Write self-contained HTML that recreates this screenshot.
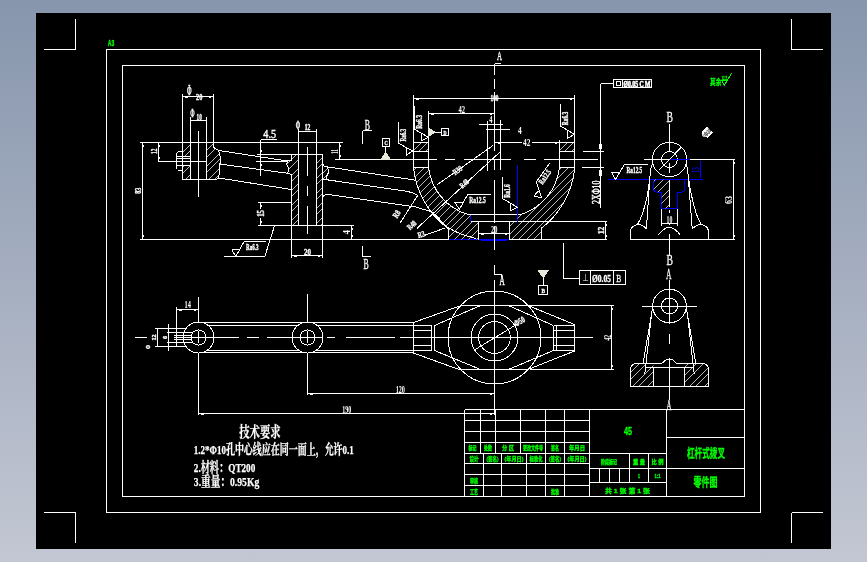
<!DOCTYPE html>
<html lang="zh"><head><meta charset="utf-8"><title>杠杆式拨叉 零件图</title>
<style>
html,body{margin:0;padding:0}
body{width:867px;height:562px;overflow:hidden;background:#a5aec0;font-family:"Liberation Sans","Noto Sans CJK SC",sans-serif}
svg{display:block;position:absolute;left:0;top:0;will-change:transform}
</style></head><body>
<svg width="867" height="562" viewBox="0 0 867 562" fill="none" stroke-width="1" shape-rendering="crispEdges" font-family="'Liberation Serif','Noto Serif CJK SC',serif">
<defs><linearGradient id="bg" x1="0" y1="0" x2="0" y2="1"><stop offset="0" stop-color="#8796ad"/><stop offset="1" stop-color="#c3c7d3"/></linearGradient></defs>
<rect x="0" y="0" width="867" height="562" fill="url(#bg)"/>
<rect x="36" y="13" width="795" height="536" fill="#000"/>
<rect x="106.5" y="49.5" width="654" height="463" stroke="#fff" fill="none" shape-rendering="crispEdges"/>
<rect x="122.5" y="65.5" width="622" height="431" stroke="#fff" fill="none" shape-rendering="crispEdges"/>
<line x1="75.5" y1="19" x2="75.5" y2="49.5" stroke="#fff" shape-rendering="crispEdges"/>
<line x1="44" y1="49.5" x2="75.5" y2="49.5" stroke="#fff" shape-rendering="crispEdges"/>
<line x1="791.5" y1="19" x2="791.5" y2="49.5" stroke="#fff" shape-rendering="crispEdges"/>
<line x1="791.5" y1="49.5" x2="823" y2="49.5" stroke="#fff" shape-rendering="crispEdges"/>
<line x1="75.5" y1="512.5" x2="75.5" y2="543" stroke="#fff" shape-rendering="crispEdges"/>
<line x1="44" y1="512.5" x2="75.5" y2="512.5" stroke="#fff" shape-rendering="crispEdges"/>
<line x1="791.5" y1="512.5" x2="791.5" y2="543" stroke="#fff" shape-rendering="crispEdges"/>
<line x1="791.5" y1="512.5" x2="823" y2="512.5" stroke="#fff" shape-rendering="crispEdges"/>
<text x="111" y="46" font-size="9.5" fill="#00ff00" text-anchor="middle" font-weight="bold" textLength="6.5" lengthAdjust="spacingAndGlyphs" font-family="'Liberation Sans',sans-serif" stroke="#00ff00" stroke-width="0.4">A3</text>
<line x1="140" y1="142.5" x2="342.5" y2="142.5" stroke="#fff" shape-rendering="crispEdges"/>
<line x1="140" y1="239.5" x2="448.5" y2="239.5" stroke="#fff" shape-rendering="crispEdges"/>
<line x1="448.5" y1="239.5" x2="508.5" y2="239.5" stroke="#0000ff" shape-rendering="crispEdges"/>
<line x1="508.5" y1="239.5" x2="607" y2="239.5" stroke="#fff" shape-rendering="crispEdges"/>
<line x1="142.5" y1="142.5" x2="142.5" y2="239.5" stroke="#fff" shape-rendering="crispEdges"/>
<rect x="143.0" y="145.0" width="1" height="2" fill="#fff" stroke="none"/>
<rect x="143.0" y="235.0" width="1" height="2" fill="#fff" stroke="none"/>
<text x="141.5" y="190.7" font-size="9" fill="#fff" text-anchor="middle" font-weight="bold" transform="rotate(-90 141.5 190.7)" textLength="6" lengthAdjust="spacingAndGlyphs" stroke="#fff" stroke-width="0.35">83</text>
<line x1="182.5" y1="93.5" x2="182.5" y2="179.5" stroke="#fff" shape-rendering="crispEdges"/>
<line x1="213.5" y1="93.5" x2="213.5" y2="147.5" stroke="#fff" shape-rendering="crispEdges"/>
<line x1="182.5" y1="96.5" x2="213.5" y2="96.5" stroke="#fff" shape-rendering="crispEdges"/>
<rect x="185.0" y="97.0" width="2.5" height="1" fill="#fff" stroke="none"/>
<rect x="208.5" y="97.0" width="2.5" height="1" fill="#fff" stroke="none"/>
<text x="199.2" y="99.7" font-size="8.5" fill="#fff" text-anchor="middle" font-weight="bold" textLength="6.4" lengthAdjust="spacingAndGlyphs" stroke="#fff" stroke-width="0.35">20</text>
<text x="189.3" y="94.5" font-size="14" fill="#fff" text-anchor="middle" font-weight="bold" textLength="4.6" lengthAdjust="spacingAndGlyphs" stroke="#fff" stroke-width="0.3">Φ</text>
<line x1="190.5" y1="117" x2="190.5" y2="179.5" stroke="#fff" shape-rendering="crispEdges"/>
<line x1="206.5" y1="117" x2="206.5" y2="179.5" stroke="#fff" shape-rendering="crispEdges"/>
<line x1="190.5" y1="120.5" x2="206.5" y2="120.5" stroke="#fff" shape-rendering="crispEdges"/>
<text x="192.5" y="116.8" font-size="12.5" fill="#fff" text-anchor="middle" font-weight="bold" textLength="4.4" lengthAdjust="spacingAndGlyphs" stroke="#fff" stroke-width="0.3">Φ</text>
<text x="199.2" y="120" font-size="9" fill="#fff" text-anchor="middle" font-weight="bold" textLength="5.2" lengthAdjust="spacingAndGlyphs" stroke="#fff" stroke-width="0.35">10</text>
<line x1="198.5" y1="130.5" x2="198.5" y2="196.5" stroke="#fff" shape-rendering="crispEdges"/>
<line x1="182.5" y1="179.5" x2="216.6" y2="179.5" stroke="#fff" shape-rendering="crispEdges"/>
<line x1="157.5" y1="161.5" x2="207" y2="161.5" stroke="#fff" shape-rendering="crispEdges"/>
<clipPath id="h1"><path d="M182.5 142.5H190.5V156.5H182.5ZM182.5 165.5H190.5V179.5H182.5Z"/></clipPath>
<g clip-path="url(#h1)" stroke="#fff" stroke-width="0.72">
<path d="M146 180L184 142M153.5 180L191.5 142M161.0 180L199.0 142M168.5 180L206.5 142M176.0 180L214.0 142M183.5 180L221.5 142" fill="none"/>
</g>
<clipPath id="h2"><path d="M206.5 142.5H213.5V147.5L218.9 150.5L219.4 155.6L220.8 156.5V163L219.4 164L218.9 177.8L216.6 179.5H206.5Z"/></clipPath>
<g clip-path="url(#h2)" stroke="#fff" stroke-width="0.72">
<path d="M170 179L207 142M177.5 179L214.5 142M185.0 179L222.0 142M192.5 179L229.5 142M200.0 179L237.0 142M207.5 179L244.5 142M215.0 179L252.0 142" fill="none"/>
</g>
<path d="M213.5 147.5L218.9 150.5L219.4 155.6L220.8 156.5V163L219.4 164L218.9 177.8L216.6 179.5" stroke="#fff" fill="none" shape-rendering="crispEdges"/>
<path d="M182.5 151.5H178.7L176.5 153.7V168.5M177.5 170.5H182.5" stroke="#fff" fill="none" shape-rendering="crispEdges"/>
<line x1="176.5" y1="156.5" x2="190.5" y2="156.5" stroke="#fff" shape-rendering="crispEdges"/>
<line x1="176.5" y1="158.5" x2="190.5" y2="158.5" stroke="#fff" shape-rendering="crispEdges"/>
<line x1="176.5" y1="165.5" x2="190.5" y2="165.5" stroke="#fff" shape-rendering="crispEdges"/>
<line x1="158.5" y1="142.5" x2="158.5" y2="161.5" stroke="#fff" shape-rendering="crispEdges"/>
<rect x="159.0" y="145.0" width="1" height="2" fill="#fff" stroke="none"/>
<rect x="159.0" y="157.0" width="1" height="2" fill="#fff" stroke="none"/>
<text x="157" y="151.3" font-size="9" fill="#fff" text-anchor="middle" font-weight="bold" transform="rotate(-90 157 151.3)" textLength="5.3" lengthAdjust="spacingAndGlyphs" stroke="#fff" stroke-width="0.35">12</text>
<line x1="218.9" y1="150.5" x2="282.7" y2="160.3" stroke="#fff"/>
<line x1="282.7" y1="160.3" x2="287.4" y2="160.8" stroke="#fff"/>
<line x1="219.4" y1="164" x2="287.9" y2="173.3" stroke="#fff"/>
<line x1="287.9" y1="173.3" x2="291.5" y2="174.6" stroke="#fff"/>
<line x1="218.9" y1="178" x2="291.5" y2="189.5" stroke="#fff"/>
<text x="269.7" y="137.7" font-size="13" fill="#fff" text-anchor="middle" textLength="12.7" lengthAdjust="spacingAndGlyphs" stroke="#fff" stroke-width="0.4">4.5</text>
<line x1="260.5" y1="139.5" x2="277" y2="139.5" stroke="#fff" shape-rendering="crispEdges"/>
<line x1="260.5" y1="139.5" x2="260.5" y2="176" stroke="#fff" shape-rendering="crispEdges"/>
<line x1="257" y1="154.5" x2="291.5" y2="154.5" stroke="#fff" shape-rendering="crispEdges"/>
<line x1="256" y1="161.5" x2="287.4" y2="161.5" stroke="#fff" shape-rendering="crispEdges"/>
<rect x="261.0" y="150.0" width="1" height="2" fill="#fff" stroke="none"/>
<rect x="261.0" y="164.0" width="1" height="2" fill="#fff" stroke="none"/>
<line x1="298.5" y1="128.5" x2="298.5" y2="225.5" stroke="#fff" shape-rendering="crispEdges"/>
<line x1="316.5" y1="128.5" x2="316.5" y2="225.5" stroke="#fff" shape-rendering="crispEdges"/>
<line x1="298.5" y1="131.5" x2="316.5" y2="131.5" stroke="#fff" shape-rendering="crispEdges"/>
<text x="307.5" y="129.7" font-size="7.5" fill="#fff" text-anchor="middle" font-weight="bold" textLength="5.6" lengthAdjust="spacingAndGlyphs" stroke="#fff" stroke-width="0.35">12</text>
<text x="298" y="128.8" font-size="13" fill="#fff" text-anchor="middle" font-weight="bold" textLength="4.4" lengthAdjust="spacingAndGlyphs" stroke="#fff" stroke-width="0.3">Φ</text>
<line x1="291.5" y1="154.5" x2="291.5" y2="160.5" stroke="#fff" shape-rendering="crispEdges"/>
<line x1="291.5" y1="174.6" x2="291.5" y2="257.5" stroke="#fff" shape-rendering="crispEdges"/>
<line x1="322.5" y1="154.5" x2="322.5" y2="257.5" stroke="#fff" shape-rendering="crispEdges"/>
<line x1="291.5" y1="154.5" x2="322.5" y2="154.5" stroke="#fff" shape-rendering="crispEdges"/>
<line x1="291.5" y1="225.5" x2="353.8" y2="225.5" stroke="#fff" shape-rendering="crispEdges"/>
<clipPath id="h3"><path d="M291.5 154.5H298.5V225.5H291.5V174.6L287.9 173.3L288.4 167.6L286.8 164.5L287.4 160.8L291.5 160.5Z"/></clipPath>
<g clip-path="url(#h3)" stroke="#fff" stroke-width="0.72">
<path d="M217 226L289 154M224.5 226L296.5 154M232.0 226L304.0 154M239.5 226L311.5 154M247.0 226L319.0 154M254.5 226L326.5 154M262.0 226L334.0 154M269.5 226L341.5 154M277.0 226L349.0 154M284.5 226L356.5 154M292.0 226L364.0 154" fill="none"/>
</g>
<clipPath id="h4"><path d="M316.5 154.5H322.5V225.5H316.5Z"/></clipPath>
<g clip-path="url(#h4)" stroke="#fff" stroke-width="0.72">
<path d="M245 226L317 154M252.5 226L324.5 154M260.0 226L332.0 154M267.5 226L339.5 154M275.0 226L347.0 154M282.5 226L354.5 154M290.0 226L362.0 154M297.5 226L369.5 154M305.0 226L377.0 154M312.5 226L384.5 154M320.0 226L392.0 154" fill="none"/>
</g>
<path d="M291.5 160.5L287.4 160.8L286.8 164.5L288.4 167.6L287.9 173.3L291.5 174.6" stroke="#fff" fill="none"/>
<clipPath id="h5"><path d="M322.5 163.8L324.2 166L327.7 166.9L328.6 172.3L326.9 175.8L326.4 179L322.5 179.4Z"/></clipPath>
<g clip-path="url(#h5)" stroke="#fff" stroke-width="0.72">
<path d="M307 180L324 163M314.5 180L331.5 163M322.0 180L339.0 163" fill="none"/>
</g>
<path d="M322.5 163.8L324.2 166L327.7 166.9L328.6 172.3L326.9 175.8L326.4 179L322.5 179.4" stroke="#fff" fill="none"/>
<line x1="307.5" y1="146.5" x2="307.5" y2="175.6" stroke="#fff" shape-rendering="crispEdges"/>
<line x1="307.5" y1="186.2" x2="307.5" y2="195.8" stroke="#fff" shape-rendering="crispEdges"/>
<line x1="307.5" y1="206" x2="307.5" y2="233.7" stroke="#fff" shape-rendering="crispEdges"/>
<line x1="291.5" y1="255.5" x2="322.5" y2="255.5" stroke="#fff" shape-rendering="crispEdges"/>
<rect x="294.0" y="256.0" width="2.5" height="1" fill="#fff" stroke="none"/>
<rect x="317.5" y="256.0" width="2.5" height="1" fill="#fff" stroke="none"/>
<text x="307.5" y="255" font-size="9" fill="#fff" text-anchor="middle" font-weight="bold" textLength="7" lengthAdjust="spacingAndGlyphs" stroke="#fff" stroke-width="0.35">20</text>
<line x1="258" y1="202.5" x2="291.5" y2="202.5" stroke="#fff" shape-rendering="crispEdges"/>
<line x1="258" y1="225.5" x2="291.5" y2="225.5" stroke="#fff" shape-rendering="crispEdges"/>
<line x1="260.5" y1="202.5" x2="260.5" y2="209" stroke="#fff" shape-rendering="crispEdges"/>
<line x1="260.5" y1="217.5" x2="260.5" y2="225.5" stroke="#fff" shape-rendering="crispEdges"/>
<rect x="261.0" y="205.0" width="1" height="2" fill="#fff" stroke="none"/>
<rect x="261.0" y="221.0" width="1" height="2" fill="#fff" stroke="none"/>
<text x="263.7" y="213.4" font-size="9.4" fill="#fff" text-anchor="middle" font-weight="bold" transform="rotate(-90 263.7 213.4)" textLength="6.8" lengthAdjust="spacingAndGlyphs" stroke="#fff" stroke-width="0.35">15</text>
<line x1="274.5" y1="225.8" x2="264.9" y2="256.3" stroke="#fff"/>
<line x1="223.7" y1="256.5" x2="265" y2="256.5" stroke="#fff" shape-rendering="crispEdges"/>
<path d="M231.7 249.5H238.7M231.7 249.5L235.7 256.5L244.2 241.5H266.2" stroke="#fff" fill="none"/>
<text x="252.3" y="249.8" font-size="7.5" fill="#fff" text-anchor="middle" font-weight="bold" textLength="12.5" lengthAdjust="spacingAndGlyphs" stroke="#fff" stroke-width="0.35">Ra6.3</text>
<line x1="327.7" y1="166.9" x2="414.8" y2="180.1" stroke="#fff"/>
<path d="M324.2 179.4L405.3 191Q412 192 417.8 195.2" stroke="#fff" fill="none"/>
<path d="M322.5 196.8Q324 194.5 327.5 194.3L415.3 206.9L432 211.9Q439 217.5 444.9 225.6L453.5 230.6L462 234.5L476.2 238.5" stroke="#fff" fill="none" shape-rendering="crispEdges"/>
<line x1="339.5" y1="142.5" x2="339.5" y2="159.5" stroke="#fff" shape-rendering="crispEdges"/>
<rect x="340.0" y="145.0" width="1" height="2" fill="#fff" stroke="none"/>
<rect x="340.0" y="155.0" width="1" height="2" fill="#fff" stroke="none"/>
<text x="338.5" y="151.7" font-size="10" fill="#fff" text-anchor="middle" font-weight="bold" transform="rotate(-90 338.5 151.7)" textLength="4.8" lengthAdjust="spacingAndGlyphs">11</text>
<line x1="335" y1="159.5" x2="437" y2="159.5" stroke="#fff" shape-rendering="crispEdges"/>
<line x1="445.4" y1="159.5" x2="455.4" y2="159.5" stroke="#fff" shape-rendering="crispEdges"/>
<line x1="463.8" y1="159.5" x2="510.6" y2="159.5" stroke="#fff" shape-rendering="crispEdges"/>
<line x1="524" y1="159.5" x2="535.7" y2="159.5" stroke="#fff" shape-rendering="crispEdges"/>
<line x1="544" y1="159.5" x2="597.6" y2="159.5" stroke="#fff" shape-rendering="crispEdges"/>
<text x="367.4" y="129.7" font-size="14" fill="#fff" text-anchor="middle" textLength="5.2" lengthAdjust="spacingAndGlyphs" stroke="#fff" stroke-width="0.35">B</text>
<line x1="362.5" y1="130.5" x2="372" y2="130.5" stroke="#fff" shape-rendering="crispEdges"/>
<line x1="362.5" y1="130.5" x2="362.5" y2="144" stroke="#fff" shape-rendering="crispEdges"/>
<line x1="362.5" y1="246" x2="362.5" y2="256.5" stroke="#fff" shape-rendering="crispEdges"/>
<line x1="362.5" y1="256.5" x2="371" y2="256.5" stroke="#fff" shape-rendering="crispEdges"/>
<text x="366" y="269" font-size="14" fill="#fff" text-anchor="middle" textLength="5.2" lengthAdjust="spacingAndGlyphs" stroke="#fff" stroke-width="0.35">B</text>
<rect x="382.5" y="138.5" width="7" height="8" stroke="#fff" fill="none" shape-rendering="crispEdges"/>
<text x="386" y="144.6" font-size="6" fill="#fff" text-anchor="middle" font-weight="bold" textLength="3.2" lengthAdjust="spacingAndGlyphs" stroke="#fff" stroke-width="0.35">C</text>
<line x1="385.5" y1="146.5" x2="385.5" y2="152.5" stroke="#fff" shape-rendering="crispEdges"/>
<path d="M385.7 152.4L381 159.5H390.3Z" stroke="#e8e8dc" fill="#e8e8dc"/>
<line x1="351.5" y1="225.5" x2="351.5" y2="239.5" stroke="#fff" shape-rendering="crispEdges"/>
<rect x="352.0" y="228.0" width="1" height="2" fill="#fff" stroke="none"/>
<rect x="352.0" y="235.0" width="1" height="2" fill="#fff" stroke="none"/>
<text x="349.8" y="232.3" font-size="10" fill="#fff" text-anchor="middle" font-weight="bold" transform="rotate(-90 349.8 232.3)" textLength="4.5" lengthAdjust="spacingAndGlyphs">4</text>
<line x1="413.5" y1="95" x2="413.5" y2="167" stroke="#fff" shape-rendering="crispEdges"/>
<line x1="574.5" y1="95" x2="574.5" y2="170" stroke="#fff" shape-rendering="crispEdges"/>
<line x1="413.5" y1="98.5" x2="574.5" y2="98.5" stroke="#fff" shape-rendering="crispEdges"/>
<rect x="416.0" y="99.0" width="2.5" height="1" fill="#fff" stroke="none"/>
<rect x="569.5" y="99.0" width="2.5" height="1" fill="#fff" stroke="none"/>
<text x="494.5" y="101.2" font-size="8" fill="#fff" text-anchor="middle" font-weight="bold" textLength="8" lengthAdjust="spacingAndGlyphs" stroke="#fff" stroke-width="0.35">100</text>
<line x1="428.5" y1="111" x2="428.5" y2="167" stroke="#fff" shape-rendering="crispEdges"/>
<line x1="428.5" y1="113.5" x2="494.5" y2="113.5" stroke="#fff" shape-rendering="crispEdges"/>
<rect x="431.0" y="114.0" width="2.5" height="1" fill="#fff" stroke="none"/>
<rect x="489.5" y="114.0" width="2.5" height="1" fill="#fff" stroke="none"/>
<text x="461.8" y="112.7" font-size="9.5" fill="#fff" text-anchor="middle" font-weight="bold" textLength="6.6" lengthAdjust="spacingAndGlyphs">42</text>
<line x1="559.5" y1="139.5" x2="559.5" y2="167" stroke="#fff" shape-rendering="crispEdges"/>
<line x1="413.5" y1="142.5" x2="428.5" y2="142.5" stroke="#fff" shape-rendering="crispEdges"/>
<line x1="559.5" y1="142.5" x2="574.5" y2="142.5" stroke="#fff" shape-rendering="crispEdges"/>
<line x1="495" y1="142.5" x2="522.3" y2="142.5" stroke="#fff" shape-rendering="crispEdges"/>
<line x1="531.6" y1="142.5" x2="559.5" y2="142.5" stroke="#fff" shape-rendering="crispEdges"/>
<text x="526.7" y="146.1" font-size="10.4" fill="#fff" text-anchor="middle" font-weight="bold" textLength="7.4" lengthAdjust="spacingAndGlyphs">42</text>
<rect x="497.5" y="143.0" width="2.5" height="1" fill="#fff" stroke="none"/>
<rect x="554.5" y="143.0" width="2.5" height="1" fill="#fff" stroke="none"/>
<clipPath id="h6"><path d="M413.5 142.5H428.5V151.5H413.5Z"/></clipPath>
<g clip-path="url(#h6)" stroke="#fff" stroke-width="0.72">
<path d="M405 152L415 142M411.7 152L421.7 142M418.4 152L428.4 142M425.1 152L435.1 142" fill="none"/>
</g>
<line x1="413.5" y1="151.5" x2="428.5" y2="151.5" stroke="#fff" shape-rendering="crispEdges"/>
<line x1="413.5" y1="167.5" x2="428.5" y2="167.5" stroke="#fff" shape-rendering="crispEdges"/>
<clipPath id="h7"><path d="M559.5 142.5H574.5V151.5H559.5Z"/></clipPath>
<g clip-path="url(#h7)" stroke="#fff" stroke-width="0.72">
<path d="M551 152L561 142M557.7 152L567.7 142M564.4 152L574.4 142M571.1 152L581.1 142" fill="none"/>
</g>
<line x1="559.5" y1="151.5" x2="574.5" y2="151.5" stroke="#fff" shape-rendering="crispEdges"/>
<line x1="559.5" y1="167" x2="574.5" y2="167" stroke="#fff" shape-rendering="crispEdges"/>
<path d="M413.5 167A86.4 86.4 0 0 0 448 228.5V239.5" stroke="#fff" fill="none"/>
<path d="M574.5 170A86.4 86.4 0 0 1 541 228.5V239.5" stroke="#fff" fill="none"/>
<path d="M428.5 167A55.9 55.9 0 0 0 468 214.5" stroke="#fff" fill="none"/>
<path d="M559.5 167A55.9 55.9 0 0 1 521 214.5" stroke="#fff" fill="none"/>
<line x1="468" y1="214.5" x2="521" y2="214.5" stroke="#fff" shape-rendering="crispEdges"/>
<line x1="470" y1="221.5" x2="607" y2="221.5" stroke="#fff" shape-rendering="crispEdges"/>
<line x1="478.5" y1="221.5" x2="478.5" y2="239.5" stroke="#fff" shape-rendering="crispEdges"/>
<line x1="509.5" y1="221.5" x2="509.5" y2="239.5" stroke="#fff" shape-rendering="crispEdges"/>
<line x1="478.5" y1="233.5" x2="509.5" y2="233.5" stroke="#fff" shape-rendering="crispEdges"/>
<rect x="481.0" y="234.0" width="2.5" height="1" fill="#fff" stroke="none"/>
<rect x="504.5" y="234.0" width="2.5" height="1" fill="#fff" stroke="none"/>
<text x="494.2" y="232.8" font-size="10" fill="#fff" text-anchor="middle" font-weight="bold" textLength="6.3" lengthAdjust="spacingAndGlyphs">20</text>
<line x1="470.5" y1="215" x2="470.5" y2="221.5" stroke="#0000ff" shape-rendering="crispEdges"/>
<line x1="517.5" y1="165" x2="517.5" y2="221.5" stroke="#0000ff" shape-rendering="crispEdges"/>
<line x1="481" y1="240.5" x2="507" y2="240.5" stroke="#0000ff" shape-rendering="crispEdges"/>
<clipPath id="h8"><path d="M413.5 167.5H428.5A55.9 55.9 0 0 0 468 214.5H470.5V221.5H478.5V239.5H448V228.5A86.4 86.4 0 0 1 413.5 167.5Z"/></clipPath>
<g clip-path="url(#h8)" stroke="#fff" stroke-width="0.72">
<path d="M344.2 240L417.2 167M351.5 240L424.5 167M358.8 240L431.8 167M366.1 240L439.1 167M373.4 240L446.4 167M380.7 240L453.7 167M388.0 240L461.0 167M395.3 240L468.3 167M402.6 240L475.6 167M409.9 240L482.9 167M417.2 240L490.2 167M424.5 240L497.5 167M431.8 240L504.8 167M439.1 240L512.1 167M446.4 240L519.4 167M453.7 240L526.7 167M461.0 240L534.0 167M468.3 240L541.3 167M475.6 240L548.6 167" fill="none"/>
</g>
<clipPath id="h9"><path d="M559.5 167H574.5V170A86.4 86.4 0 0 1 541 228.5V239.5H509.5V221.5H517.5V214.5H521A55.9 55.9 0 0 0 559.5 167Z"/></clipPath>
<g clip-path="url(#h9)" stroke="#fff" stroke-width="0.72">
<path d="M438 240L512 166M445.3 240L519.3 166M452.6 240L526.6 166M459.9 240L533.9 166M467.2 240L541.2 166M474.5 240L548.5 166M481.8 240L555.8 166M489.1 240L563.1 166M496.4 240L570.4 166M503.7 240L577.7 166M511.0 240L585.0 166M518.3 240L592.3 166M525.6 240L599.6 166M532.9 240L606.9 166M540.2 240L614.2 166M547.5 240L621.5 166M554.8 240L628.8 166M562.1 240L636.1 166M569.4 240L643.4 166" fill="none"/>
</g>
<line x1="494.5" y1="63.6" x2="494.5" y2="75.4" stroke="#fff" shape-rendering="crispEdges"/>
<line x1="494.5" y1="78.8" x2="494.5" y2="89" stroke="#fff" shape-rendering="crispEdges"/>
<line x1="494.5" y1="92" x2="494.5" y2="150.5" stroke="#fff" shape-rendering="crispEdges"/>
<line x1="494.5" y1="160.4" x2="494.5" y2="170.4" stroke="#fff" shape-rendering="crispEdges"/>
<line x1="494.5" y1="180" x2="494.5" y2="223" stroke="#fff" shape-rendering="crispEdges"/>
<line x1="494.5" y1="225.7" x2="494.5" y2="250" stroke="#fff" shape-rendering="crispEdges"/>
<line x1="494.5" y1="280" x2="494.5" y2="415" stroke="#fff" shape-rendering="crispEdges"/>
<line x1="494.5" y1="63.5" x2="500.5" y2="63.5" stroke="#fff" shape-rendering="crispEdges"/>
<text x="499.5" y="60.3" font-size="12" fill="#fff" text-anchor="middle" textLength="5" lengthAdjust="spacingAndGlyphs" stroke="#fff" stroke-width="0.4">A</text>
<line x1="487.5" y1="120.5" x2="487.5" y2="170.5" stroke="#fff" shape-rendering="crispEdges"/>
<line x1="500.5" y1="120" x2="500.5" y2="170" stroke="#fff" shape-rendering="crispEdges"/>
<line x1="479" y1="124.5" x2="503" y2="124.5" stroke="#fff" shape-rendering="crispEdges"/>
<line x1="485.5" y1="129.5" x2="509.5" y2="129.5" stroke="#fff" shape-rendering="crispEdges"/>
<text x="490.9" y="123" font-size="10" fill="#fff" text-anchor="middle" font-weight="bold" textLength="3.2" lengthAdjust="spacingAndGlyphs">4</text>
<text x="519.9" y="133.6" font-size="11" fill="#fff" text-anchor="middle" font-weight="bold" textLength="3.7" lengthAdjust="spacingAndGlyphs">4</text>
<line x1="436.8" y1="185" x2="493" y2="145.5" stroke="#fff"/>
<line x1="416.7" y1="228.6" x2="500.3" y2="151.7" stroke="#fff"/>
<text x="459" y="172.5" font-size="8" fill="#fff" text-anchor="middle" font-weight="bold" transform="rotate(-35 459 172.5)" textLength="9.5" lengthAdjust="spacingAndGlyphs" stroke="#fff" stroke-width="0.35">R39</text>
<text x="466" y="185.5" font-size="8" fill="#fff" text-anchor="middle" font-weight="bold" transform="rotate(-43 466 185.5)" textLength="9.5" lengthAdjust="spacingAndGlyphs" stroke="#fff" stroke-width="0.35">R48</text>
<line x1="400.3" y1="222.7" x2="417.3" y2="196" stroke="#fff"/>
<text x="399" y="215.5" font-size="8.5" fill="#fff" text-anchor="middle" font-weight="bold" transform="rotate(-58 399 215.5)" textLength="7.5" lengthAdjust="spacingAndGlyphs" stroke="#fff" stroke-width="0.35">R8</text>
<text x="413.5" y="227" font-size="8" fill="#fff" text-anchor="middle" font-weight="bold" transform="rotate(-43 413.5 227)" textLength="9.5" lengthAdjust="spacingAndGlyphs" stroke="#fff" stroke-width="0.35">R48</text>
<line x1="425" y1="235.2" x2="445.6" y2="227.8" stroke="#fff"/>
<text x="422" y="237" font-size="8" fill="#fff" text-anchor="middle" font-weight="bold" transform="rotate(-15 422 237)" textLength="7" lengthAdjust="spacingAndGlyphs" stroke="#fff" stroke-width="0.35">R3</text>
<path d="M398.5 122V143.2L412.5 151L406.7 155V148" stroke="#fff" fill="none"/>
<text x="406.3" y="135.2" font-size="8" fill="#fff" text-anchor="middle" font-weight="bold" transform="rotate(-90 406.3 135.2)" textLength="12.8" lengthAdjust="spacingAndGlyphs" stroke="#fff" stroke-width="0.35">Ra6.3</text>
<path d="M414.7 106V129.3L428.2 137.2L421.4 141V134.3" stroke="#fff" fill="none"/>
<text x="421.8" y="121.9" font-size="8" fill="#fff" text-anchor="middle" font-weight="bold" transform="rotate(-90 421.8 121.9)" textLength="13.6" lengthAdjust="spacingAndGlyphs" stroke="#fff" stroke-width="0.35">Ra6.3</text>
<path d="M428.8 128.1V136L434.8 132.2Z" stroke="#e8e8dc" fill="#e8e8dc"/>
<line x1="434.8" y1="132.5" x2="441.8" y2="132.5" stroke="#fff" shape-rendering="crispEdges"/>
<rect x="441.5" y="128.5" width="7" height="7" stroke="#fff" fill="none" shape-rendering="crispEdges"/>
<text x="445" y="134.5" font-size="5.5" fill="#fff" text-anchor="middle" font-weight="bold" textLength="3" lengthAdjust="spacingAndGlyphs" stroke="#fff" stroke-width="0.35">D</text>
<path d="M491 194.5H467.7L459.4 209.3L455 202.7H463" stroke="#fff" fill="none"/>
<text x="477.5" y="202.6" font-size="8" fill="#fff" text-anchor="middle" font-weight="bold" textLength="16.4" lengthAdjust="spacingAndGlyphs" stroke="#fff" stroke-width="0.35">Ra12.5</text>
<path d="M502.5 176.7V198.5L517.5 207.3L510.3 211V203.8" stroke="#fff" fill="none"/>
<text x="510.3" y="191" font-size="8" fill="#fff" text-anchor="middle" font-weight="bold" transform="rotate(-90 510.3 191)" textLength="13.4" lengthAdjust="spacingAndGlyphs" stroke="#fff" stroke-width="0.35">Ra1.6</text>
<path d="M560.6 104.2V126L574.4 134.3L567.3 138.5V131" stroke="#fff" fill="none"/>
<text x="568.4" y="118.5" font-size="8" fill="#fff" text-anchor="middle" font-weight="bold" transform="rotate(-90 568.4 118.5)" textLength="13.3" lengthAdjust="spacingAndGlyphs" stroke="#fff" stroke-width="0.35">Ra6.3</text>
<path d="M549.8 163L536.3 182L541.5 197.7L533.8 196L538.5 191" stroke="#fff" fill="none"/>
<text x="547" y="178.5" font-size="8" fill="#fff" text-anchor="middle" font-weight="bold" transform="rotate(-55 547 178.5)" textLength="16" lengthAdjust="spacingAndGlyphs" stroke="#fff" stroke-width="0.35">Ra12.5</text>
<line x1="605.5" y1="221.5" x2="605.5" y2="239.5" stroke="#fff" shape-rendering="crispEdges"/>
<rect x="606.0" y="224.0" width="1" height="2" fill="#fff" stroke="none"/>
<rect x="606.0" y="235.0" width="1" height="2" fill="#fff" stroke="none"/>
<text x="604" y="230.5" font-size="9" fill="#fff" text-anchor="middle" font-weight="bold" transform="rotate(-90 604 230.5)" textLength="7.5" lengthAdjust="spacingAndGlyphs" stroke="#fff" stroke-width="0.35">12</text>
<line x1="600.5" y1="83.5" x2="600.5" y2="207.5" stroke="#fff" shape-rendering="crispEdges"/>
<line x1="582.8" y1="151.5" x2="603.7" y2="151.5" stroke="#fff" shape-rendering="crispEdges"/>
<line x1="582" y1="167.5" x2="603.7" y2="167.5" stroke="#fff" shape-rendering="crispEdges"/>
<rect x="599.5" y="144.5" width="2" height="4" stroke="#fff" fill="#fff" shape-rendering="crispEdges"/>
<rect x="599.5" y="170.5" width="2" height="5" stroke="#fff" fill="#fff" shape-rendering="crispEdges"/>
<text x="600" y="192.3" font-size="13.5" fill="#fff" text-anchor="middle" transform="rotate(-90 600 192.3)" textLength="23.5" lengthAdjust="spacingAndGlyphs" stroke="#fff" stroke-width="0.5">2XΦ10</text>
<line x1="600.5" y1="83.5" x2="613" y2="83.5" stroke="#fff" shape-rendering="crispEdges"/>
<rect x="613.5" y="79.5" width="38" height="8" stroke="#fff" fill="none" shape-rendering="crispEdges"/>
<rect x="616.5" y="81.5" width="4" height="4" stroke="#fff" fill="none" shape-rendering="crispEdges"/>
<line x1="622.5" y1="79.5" x2="622.5" y2="87.5" stroke="#fff" shape-rendering="crispEdges"/>
<text x="637" y="86.6" font-size="8" fill="#fff" text-anchor="middle" font-weight="bold" textLength="27" lengthAdjust="spacingAndGlyphs" stroke="#fff" stroke-width="0.6">Ø0.05 C M</text>
<line x1="608" y1="179.5" x2="703" y2="179.5" stroke="#0000ff" shape-rendering="crispEdges"/>
<path d="M611.5 172.5H620M611.5 172.5L615.5 179.3L624.4 164.5H647.8" stroke="#fff" fill="none"/>
<text x="634.4" y="173.4" font-size="8.5" fill="#fff" text-anchor="middle" font-weight="bold" textLength="15.7" lengthAdjust="spacingAndGlyphs" stroke="#fff" stroke-width="0.35">Ra12.5</text>
<path d="M563.5 242.5V278.5H579.5" stroke="#fff" fill="none" shape-rendering="crispEdges"/>
<rect x="579.5" y="270.5" width="46" height="14" stroke="#fff" fill="none" shape-rendering="crispEdges"/>
<line x1="590.5" y1="270.5" x2="590.5" y2="284.5" stroke="#fff" shape-rendering="crispEdges"/>
<line x1="613.5" y1="270.5" x2="613.5" y2="284.5" stroke="#fff" shape-rendering="crispEdges"/>
<text x="585.5" y="281" font-size="10" fill="#fff" text-anchor="middle" textLength="6.5" lengthAdjust="spacingAndGlyphs" font-family="'DejaVu Sans',sans-serif">⊥</text>
<text x="601.5" y="282" font-size="10" fill="#fff" text-anchor="middle" font-weight="bold" textLength="19" lengthAdjust="spacingAndGlyphs" stroke="#fff" stroke-width="0.3">Ø0.05</text>
<text x="618.7" y="281.5" font-size="11" fill="#fff" text-anchor="middle" textLength="5" lengthAdjust="spacingAndGlyphs" stroke="#fff" stroke-width="0.3">B</text>
<path d="M538.3 270.5H548L543.2 277.6Z" stroke="#e8e8dc" fill="#e8e8dc"/>
<line x1="543.5" y1="277.6" x2="543.5" y2="285.5" stroke="#fff" shape-rendering="crispEdges"/>
<rect x="538.5" y="285.5" width="9" height="9" stroke="#fff" fill="none" shape-rendering="crispEdges"/>
<text x="543.3" y="292.5" font-size="7" fill="#fff" text-anchor="middle" font-weight="bold" textLength="3.5" lengthAdjust="spacingAndGlyphs" stroke="#fff" stroke-width="0.35">B</text>
<path d="M494.5 265V274.5H501.5V277" stroke="#fff" fill="none" shape-rendering="crispEdges"/>
<text x="502" y="284.8" font-size="14" fill="#fff" text-anchor="middle" textLength="5.2" lengthAdjust="spacingAndGlyphs" stroke="#fff" stroke-width="0.5">A</text>
<text x="669.7" y="122.3" font-size="15" fill="#fff" text-anchor="middle" textLength="6.5" lengthAdjust="spacingAndGlyphs" stroke="#fff" stroke-width="0.3">B</text>
<line x1="669.5" y1="123.5" x2="669.5" y2="152.4" stroke="#fff" shape-rendering="crispEdges"/>
<line x1="669.5" y1="162.8" x2="669.5" y2="172.5" stroke="#fff" shape-rendering="crispEdges"/>
<line x1="669.5" y1="179.5" x2="669.5" y2="206.7" stroke="#fff" shape-rendering="crispEdges"/>
<line x1="669.5" y1="210" x2="669.5" y2="212.7" stroke="#fff" shape-rendering="crispEdges"/>
<line x1="669.5" y1="222.7" x2="669.5" y2="225" stroke="#fff" shape-rendering="crispEdges"/>
<line x1="669.5" y1="234" x2="669.5" y2="254.5" stroke="#fff" shape-rendering="crispEdges"/>
<text x="669.7" y="265" font-size="15" fill="#fff" text-anchor="middle" textLength="6.5" lengthAdjust="spacingAndGlyphs" stroke="#fff" stroke-width="0.3">B</text>
<text x="668.8" y="279" font-size="15" fill="#fff" text-anchor="middle" textLength="5.5" lengthAdjust="spacingAndGlyphs" stroke="#fff" stroke-width="0.3">A</text>
<line x1="669.5" y1="280" x2="669.5" y2="290" stroke="#fff" stroke-dasharray="4 2" shape-rendering="crispEdges"/>
<circle cx="669.5" cy="159.5" r="17.2" stroke="#fff" fill="none"/>
<circle cx="669.5" cy="159.5" r="7.9" stroke="#fff" fill="none"/>
<line x1="643.5" y1="159.5" x2="670" y2="159.5" stroke="#fff" shape-rendering="crispEdges"/>
<line x1="670" y1="159.5" x2="689.5" y2="159.5" stroke="#0000ff" shape-rendering="crispEdges"/>
<line x1="689.5" y1="159.5" x2="734.6" y2="159.5" stroke="#fff" shape-rendering="crispEdges"/>
<line x1="659.1" y1="170.2" x2="680.9" y2="147.6" stroke="#fff"/>
<text x="707.4" y="134.5" font-size="7" fill="#fff" text-anchor="middle" font-weight="bold" transform="rotate(-45 707.4 134.5)" textLength="9" lengthAdjust="spacingAndGlyphs" stroke="#fff" stroke-width="0.35">Φ20</text>
<rect x="703.4" y="128.2" width="8" height="8" fill="#fff" transform="rotate(-45 707.4 132.2)"/>
<text x="707.4" y="134.6" font-size="6.5" fill="#000" text-anchor="middle" font-weight="bold" transform="rotate(-45 707.4 132.2)" textLength="8" lengthAdjust="spacingAndGlyphs">Φ20</text>
<line x1="700.5" y1="161" x2="700.5" y2="177.6" stroke="#0000ff" shape-rendering="crispEdges"/>
<text x="699.5" y="170.1" font-size="9.5" fill="#0000ff" text-anchor="middle" font-weight="bold" transform="rotate(-90 699.5 170.1)" textLength="5.9" lengthAdjust="spacingAndGlyphs">13</text>
<line x1="733.5" y1="159.5" x2="733.5" y2="239.5" stroke="#fff" shape-rendering="crispEdges"/>
<rect x="734.0" y="162.0" width="1" height="2" fill="#fff" stroke="none"/>
<rect x="734.0" y="235.0" width="1" height="2" fill="#fff" stroke="none"/>
<text x="731.8" y="200" font-size="10" fill="#fff" text-anchor="middle" font-weight="bold" transform="rotate(-90 731.8 200)" textLength="8" lengthAdjust="spacingAndGlyphs">63</text>
<path d="M656.4 179.5Q653.7 180.5 653.7 183.5V189Q653.7 192 657 192H661.5V208.5H677.5V192H681.5Q684.5 192 684.5 189V179.5" stroke="#0000ff" fill="none"/>
<clipPath id="h10"><path d="M653.7 179.5H669.5V208.5H661.5V192H653.7Z"/></clipPath>
<g clip-path="url(#h10)" stroke="#fff" stroke-width="0.72">
<path d="M626 209L656 179M633.5 209L663.5 179M641.0 209L671.0 179M648.5 209L678.5 179M656.0 209L686.0 179M663.5 209L693.5 179" fill="none"/>
</g>
<line x1="661.5" y1="208.5" x2="661.5" y2="225.5" stroke="#fff" shape-rendering="crispEdges"/>
<line x1="677.5" y1="208.5" x2="677.5" y2="225.5" stroke="#fff" shape-rendering="crispEdges"/>
<line x1="661.5" y1="223.5" x2="677.5" y2="223.5" stroke="#fff" shape-rendering="crispEdges"/>
<text x="669.4" y="222.7" font-size="10" fill="#fff" text-anchor="middle" font-weight="bold" textLength="5.8" lengthAdjust="spacingAndGlyphs">10</text>
<path d="M652.6 163.5L650.4 170L646.4 228.7" stroke="#fff" fill="none"/>
<path d="M686.4 163.5L687.7 170L692.2 228.7" stroke="#fff" fill="none"/>
<path d="M649.7 179.3Q648.5 189 647 196.7Q645 206 642.4 214Q640.5 219.5 637.7 224" stroke="#fff" fill="none"/>
<path d="M688.8 179.3Q690 189 691.8 196.7Q694 206 696.4 214Q698.5 219.5 701.1 224" stroke="#fff" fill="none"/>
<path d="M630.5 239.5V231Q631.5 226.5 635 225.4Q638 224.3 640.5 224.8Q644 226 646.4 228.7" stroke="#fff" fill="none"/>
<path d="M708.5 239.5V231Q707.5 226.5 704 225.4Q701 224.3 698.5 224.8Q695 226 692.2 228.7" stroke="#fff" fill="none"/>
<line x1="630.5" y1="239.5" x2="735" y2="239.5" stroke="#fff" shape-rendering="crispEdges"/>
<path d="M658.4 234.8Q669.4 220 680.4 235.2" stroke="#fff" fill="none"/>
<circle cx="669.5" cy="306" r="16.8" stroke="#fff" fill="none"/>
<circle cx="669.5" cy="306" r="8.1" stroke="#fff" fill="none"/>
<line x1="642" y1="306.5" x2="697" y2="306.5" stroke="#fff" shape-rendering="crispEdges"/>
<line x1="669.5" y1="281" x2="669.5" y2="324" stroke="#fff" shape-rendering="crispEdges"/>
<line x1="669.5" y1="334" x2="669.5" y2="343.5" stroke="#fff" shape-rendering="crispEdges"/>
<line x1="669.5" y1="357.5" x2="669.5" y2="399.5" stroke="#fff" shape-rendering="crispEdges"/>
<text x="668.9" y="410.3" font-size="14" fill="#fff" text-anchor="middle" textLength="5" lengthAdjust="spacingAndGlyphs" stroke="#fff" stroke-width="0.35">A</text>
<path d="M652.6 308L643 363.8M651.6 314L644.8 374" stroke="#fff" fill="none"/>
<path d="M686.4 308L695.8 363.8M687.4 314L694.2 374" stroke="#fff" fill="none"/>
<path d="M630.5 386.5V369Q631 364 636.3 363.5H660.4Q663 363.3 664.5 361Q666.5 359 669.4 358.8Q672.5 359 674.3 361Q675.5 363.3 677.7 363.5H702.7Q708 364 708.5 369V386.5Z" stroke="#fff" fill="none"/>
<line x1="644.8" y1="367.5" x2="693.5" y2="367.5" stroke="#fff" shape-rendering="crispEdges"/>
<line x1="653.5" y1="367.5" x2="653.5" y2="386.5" stroke="#fff" shape-rendering="crispEdges"/>
<line x1="684.5" y1="367.5" x2="684.5" y2="386.5" stroke="#fff" shape-rendering="crispEdges"/>
<clipPath id="h11"><path d="M630.5 386.5V369Q631 364 636.3 363.5H653.5V386.5Z"/></clipPath>
<g clip-path="url(#h11)" stroke="#fff" stroke-width="0.72">
<path d="M608 387L632 363M615.5 387L639.5 363M623.0 387L647.0 363M630.5 387L654.5 363M638.0 387L662.0 363M645.5 387L669.5 363M653.0 387L677.0 363" fill="none"/>
</g>
<clipPath id="h12"><path d="M708.5 386.5V369Q708 364 702.7 363.5H684.5V386.5Z"/></clipPath>
<g clip-path="url(#h12)" stroke="#fff" stroke-width="0.72">
<path d="M665 387L689 363M672.5 387L696.5 363M680.0 387L704.0 363M687.5 387L711.5 363M695.0 387L719.0 363M702.5 387L726.5 363" fill="none"/>
</g>
<circle cx="494.5" cy="337.5" r="46.5" stroke="#fff" fill="none"/>
<circle cx="494.5" cy="337.5" r="23.4" stroke="#fff" fill="none"/>
<circle cx="494.5" cy="337.5" r="15.9" stroke="#fff" fill="none"/>
<line x1="475.1" y1="349.6" x2="517.6" y2="323.8" stroke="#fff"/>
<text x="521" y="324" font-size="9" fill="#fff" text-anchor="middle" font-weight="bold" transform="rotate(-31 521 324)" textLength="11" lengthAdjust="spacingAndGlyphs" stroke="#fff" stroke-width="0.35">Φ50</text>
<line x1="611.5" y1="305.5" x2="611.5" y2="369.5" stroke="#fff" shape-rendering="crispEdges"/>
<rect x="612.0" y="308.0" width="1" height="2" fill="#fff" stroke="none"/>
<rect x="612.0" y="365.0" width="1" height="2" fill="#fff" stroke="none"/>
<line x1="507.6" y1="305.5" x2="614" y2="305.5" stroke="#fff" shape-rendering="crispEdges"/>
<line x1="530" y1="369.5" x2="614" y2="369.5" stroke="#fff" shape-rendering="crispEdges"/>
<text x="610.7" y="337.7" font-size="10" fill="#fff" text-anchor="middle" font-weight="bold" transform="rotate(-90 610.7 337.7)" textLength="5.6" lengthAdjust="spacingAndGlyphs">42</text>
<path d="M413.5 322.5L461 305.5H528L574.5 324.5V351L528 369.5H459L413.5 353" stroke="#fff" fill="none"/>
<path d="M434.5 325.5L480.6 305.5M508.4 305.5L553.5 325.5M434.5 350.5L480.6 369.5M508.4 369.5L553.5 350.5" stroke="#fff" fill="none"/>
<line x1="198.5" y1="322.5" x2="413.5" y2="322.5" stroke="#fff" shape-rendering="crispEdges"/>
<line x1="198.5" y1="325.5" x2="431.5" y2="325.5" stroke="#fff" shape-rendering="crispEdges"/>
<line x1="198.5" y1="350.5" x2="431.5" y2="350.5" stroke="#fff" shape-rendering="crispEdges"/>
<line x1="198.5" y1="352.5" x2="413.5" y2="352.5" stroke="#fff" shape-rendering="crispEdges"/>
<line x1="413.5" y1="322.5" x2="413.5" y2="353" stroke="#fff" shape-rendering="crispEdges"/>
<line x1="431.5" y1="325.5" x2="431.5" y2="350.5" stroke="#fff" shape-rendering="crispEdges"/>
<line x1="434.5" y1="325" x2="434.5" y2="350" stroke="#fff" shape-rendering="crispEdges"/>
<line x1="553.5" y1="325.5" x2="553.5" y2="350.5" stroke="#fff" shape-rendering="crispEdges"/>
<line x1="556.5" y1="325.5" x2="556.5" y2="350.5" stroke="#fff" shape-rendering="crispEdges"/>
<line x1="553.5" y1="325.5" x2="574.5" y2="325.5" stroke="#fff" shape-rendering="crispEdges"/>
<line x1="553.5" y1="350.5" x2="574.5" y2="350.5" stroke="#fff" shape-rendering="crispEdges"/>
<line x1="553.5" y1="330.5" x2="574.5" y2="330.5" stroke="#fff" shape-rendering="crispEdges"/>
<line x1="553.5" y1="345.5" x2="574.5" y2="345.5" stroke="#fff" shape-rendering="crispEdges"/>
<line x1="413.5" y1="330.5" x2="431.5" y2="330.5" stroke="#fff" shape-rendering="crispEdges"/>
<line x1="413.5" y1="345.5" x2="431.5" y2="345.5" stroke="#fff" shape-rendering="crispEdges"/>
<circle cx="198.5" cy="337.5" r="15.5" stroke="#fff" fill="#000"/>
<circle cx="198.5" cy="337.5" r="7.6" stroke="#fff" fill="none"/>
<line x1="198.5" y1="331" x2="198.5" y2="343" stroke="#fff" shape-rendering="crispEdges"/>
<circle cx="307.5" cy="337.5" r="15.5" stroke="#fff" fill="#000"/>
<circle cx="307.5" cy="337.5" r="7.6" stroke="#fff" fill="none"/>
<line x1="307.5" y1="331" x2="307.5" y2="343" stroke="#fff" shape-rendering="crispEdges"/>
<line x1="198.5" y1="297" x2="198.5" y2="322" stroke="#fff" shape-rendering="crispEdges"/>
<line x1="198.5" y1="353" x2="198.5" y2="415" stroke="#fff" shape-rendering="crispEdges"/>
<line x1="307.5" y1="293.8" x2="307.5" y2="322" stroke="#fff" shape-rendering="crispEdges"/>
<line x1="307.5" y1="353" x2="307.5" y2="395" stroke="#fff" shape-rendering="crispEdges"/>
<line x1="176.5" y1="307" x2="176.5" y2="346" stroke="#fff" shape-rendering="crispEdges"/>
<line x1="176.5" y1="309.5" x2="198.5" y2="309.5" stroke="#fff" shape-rendering="crispEdges"/>
<text x="187.8" y="308.3" font-size="9.5" fill="#fff" text-anchor="middle" font-weight="bold" textLength="6.4" lengthAdjust="spacingAndGlyphs">14</text>
<rect x="179.0" y="310.0" width="2.5" height="1" fill="#fff" stroke="none"/>
<rect x="193.5" y="310.0" width="2.5" height="1" fill="#fff" stroke="none"/>
<line x1="307.5" y1="393.5" x2="494.5" y2="393.5" stroke="#fff" shape-rendering="crispEdges"/>
<rect x="310.0" y="394.0" width="2.5" height="1" fill="#fff" stroke="none"/>
<rect x="489.5" y="394.0" width="2.5" height="1" fill="#fff" stroke="none"/>
<text x="400.3" y="392.8" font-size="10" fill="#fff" text-anchor="middle" font-weight="bold" textLength="9.3" lengthAdjust="spacingAndGlyphs">120</text>
<line x1="198.5" y1="413.5" x2="494.5" y2="413.5" stroke="#fff" shape-rendering="crispEdges"/>
<rect x="201.0" y="414.0" width="2.5" height="1" fill="#fff" stroke="none"/>
<rect x="489.5" y="414.0" width="2.5" height="1" fill="#fff" stroke="none"/>
<text x="346.7" y="413" font-size="10" fill="#fff" text-anchor="middle" font-weight="bold" textLength="9" lengthAdjust="spacingAndGlyphs">190</text>
<line x1="155" y1="328.5" x2="186" y2="328.5" stroke="#fff" shape-rendering="crispEdges"/>
<line x1="155" y1="346.5" x2="186" y2="346.5" stroke="#fff" shape-rendering="crispEdges"/>
<line x1="166.5" y1="332.5" x2="191.5" y2="332.5" stroke="#fff" shape-rendering="crispEdges"/>
<line x1="174" y1="335.5" x2="191" y2="335.5" stroke="#fff" shape-rendering="crispEdges"/>
<line x1="174" y1="339.5" x2="191" y2="339.5" stroke="#fff" shape-rendering="crispEdges"/>
<line x1="166.5" y1="342.5" x2="191.5" y2="342.5" stroke="#fff" shape-rendering="crispEdges"/>
<line x1="135" y1="337.5" x2="146.7" y2="337.5" stroke="#fff" shape-rendering="crispEdges"/>
<line x1="173.5" y1="337.5" x2="238.7" y2="337.5" stroke="#fff" shape-rendering="crispEdges"/>
<line x1="247" y1="337.5" x2="258.8" y2="337.5" stroke="#fff" shape-rendering="crispEdges"/>
<line x1="267" y1="337.5" x2="323.4" y2="337.5" stroke="#fff" shape-rendering="crispEdges"/>
<line x1="327" y1="337.5" x2="335.4" y2="337.5" stroke="#fff" shape-rendering="crispEdges"/>
<line x1="346" y1="337.5" x2="395.3" y2="337.5" stroke="#fff" shape-rendering="crispEdges"/>
<line x1="400" y1="337.5" x2="592.7" y2="337.5" stroke="#fff" shape-rendering="crispEdges"/>
<line x1="157.5" y1="328.5" x2="157.5" y2="346.5" stroke="#fff" shape-rendering="crispEdges"/>
<line x1="168.5" y1="323.8" x2="168.5" y2="351.3" stroke="#fff" shape-rendering="crispEdges"/>
<text x="155.5" y="337.5" font-size="6" fill="#fff" text-anchor="middle" font-weight="bold" transform="rotate(-90 155.5 337.5)" textLength="6" lengthAdjust="spacingAndGlyphs" stroke="#fff" stroke-width="0.35">12</text>
<text x="166.5" y="337.5" font-size="6" fill="#fff" text-anchor="middle" font-weight="bold" transform="rotate(-90 166.5 337.5)" textLength="3" lengthAdjust="spacingAndGlyphs" stroke="#fff" stroke-width="0.35">6</text>
<text x="150" y="347" font-size="6" fill="#fff" text-anchor="middle" font-weight="bold" transform="rotate(-90 150 347)" textLength="4" lengthAdjust="spacingAndGlyphs" stroke="#fff" stroke-width="0.35">Φ</text>
<text x="260" y="437" font-size="15" fill="#fff" text-anchor="middle" font-weight="bold" textLength="41.5" lengthAdjust="spacingAndGlyphs" font-family="'Liberation Serif','Noto Serif CJK SC',serif" stroke="#fff" stroke-width="0.25">技术要求</text>
<text x="193.8" y="454" font-size="13.5" fill="#fff" text-anchor="start" font-weight="bold" textLength="160" lengthAdjust="spacingAndGlyphs" font-family="'Liberation Serif','Noto Serif CJK SC',serif" stroke="#fff" stroke-width="0.25">1.2*Φ10孔中心线应在同一面上，允许0.1</text>
<text x="193.8" y="472" font-size="13.5" fill="#fff" text-anchor="start" font-weight="bold" textLength="61.5" lengthAdjust="spacingAndGlyphs" font-family="'Liberation Serif','Noto Serif CJK SC',serif" stroke="#fff" stroke-width="0.25">2.材料：QT200</text>
<text x="193.8" y="486" font-size="13.5" fill="#fff" text-anchor="start" font-weight="bold" textLength="65.5" lengthAdjust="spacingAndGlyphs" font-family="'Liberation Serif','Noto Serif CJK SC',serif" stroke="#fff" stroke-width="0.25">3.重量：0.95Kg</text>
<line x1="464.5" y1="409.5" x2="744.5" y2="409.5" stroke="#fff" shape-rendering="crispEdges"/>
<line x1="464.5" y1="409.5" x2="464.5" y2="496.5" stroke="#fff" shape-rendering="crispEdges"/>
<line x1="464.5" y1="420.5" x2="589.5" y2="420.5" stroke="#fff" shape-rendering="crispEdges"/>
<line x1="464.5" y1="431.5" x2="589.5" y2="431.5" stroke="#fff" shape-rendering="crispEdges"/>
<line x1="464.5" y1="442.5" x2="589.5" y2="442.5" stroke="#fff" shape-rendering="crispEdges"/>
<line x1="464.5" y1="453.5" x2="589.5" y2="453.5" stroke="#fff" shape-rendering="crispEdges"/>
<line x1="464.5" y1="463.5" x2="589.5" y2="463.5" stroke="#fff" shape-rendering="crispEdges"/>
<line x1="464.5" y1="474.5" x2="589.5" y2="474.5" stroke="#fff" shape-rendering="crispEdges"/>
<line x1="464.5" y1="485.5" x2="589.5" y2="485.5" stroke="#fff" shape-rendering="crispEdges"/>
<line x1="480.5" y1="409.5" x2="480.5" y2="453.5" stroke="#fff" shape-rendering="crispEdges"/>
<line x1="495.5" y1="409.5" x2="495.5" y2="453.5" stroke="#fff" shape-rendering="crispEdges"/>
<line x1="520.5" y1="409.5" x2="520.5" y2="453.5" stroke="#fff" shape-rendering="crispEdges"/>
<line x1="545.5" y1="409.5" x2="545.5" y2="453.5" stroke="#fff" shape-rendering="crispEdges"/>
<line x1="564.5" y1="409.5" x2="564.5" y2="453.5" stroke="#fff" shape-rendering="crispEdges"/>
<line x1="483.5" y1="453.5" x2="483.5" y2="496.5" stroke="#fff" shape-rendering="crispEdges"/>
<line x1="501.5" y1="453.5" x2="501.5" y2="496.5" stroke="#fff" shape-rendering="crispEdges"/>
<line x1="526.5" y1="453.5" x2="526.5" y2="496.5" stroke="#fff" shape-rendering="crispEdges"/>
<line x1="545.5" y1="453.5" x2="545.5" y2="496.5" stroke="#fff" shape-rendering="crispEdges"/>
<line x1="564.5" y1="453.5" x2="564.5" y2="496.5" stroke="#fff" shape-rendering="crispEdges"/>
<line x1="589.5" y1="409.5" x2="589.5" y2="496.5" stroke="#fff" shape-rendering="crispEdges"/>
<line x1="666.5" y1="409.5" x2="666.5" y2="496.5" stroke="#fff" shape-rendering="crispEdges"/>
<line x1="589.5" y1="453.5" x2="666.5" y2="453.5" stroke="#fff" shape-rendering="crispEdges"/>
<line x1="589.5" y1="468.5" x2="744.5" y2="468.5" stroke="#fff" shape-rendering="crispEdges"/>
<line x1="589.5" y1="482.5" x2="666.5" y2="482.5" stroke="#fff" shape-rendering="crispEdges"/>
<line x1="666.5" y1="437.5" x2="744.5" y2="437.5" stroke="#fff" shape-rendering="crispEdges"/>
<line x1="629.5" y1="453.5" x2="629.5" y2="482.5" stroke="#fff" shape-rendering="crispEdges"/>
<line x1="648.5" y1="453.5" x2="648.5" y2="482.5" stroke="#fff" shape-rendering="crispEdges"/>
<line x1="599.5" y1="468.5" x2="599.5" y2="482.5" stroke="#fff" shape-rendering="crispEdges"/>
<line x1="609.5" y1="468.5" x2="609.5" y2="482.5" stroke="#fff" shape-rendering="crispEdges"/>
<line x1="619.5" y1="468.5" x2="619.5" y2="482.5" stroke="#fff" shape-rendering="crispEdges"/>
<text x="472.5" y="450.3" font-size="5.8" fill="#00ff00" text-anchor="middle" font-weight="bold" textLength="8" lengthAdjust="spacingAndGlyphs" font-family="'Liberation Sans','Noto Sans CJK SC',sans-serif" stroke="#00ff00" stroke-width="0.35">标记</text>
<text x="488" y="450.3" font-size="5.8" fill="#00ff00" text-anchor="middle" font-weight="bold" textLength="8" lengthAdjust="spacingAndGlyphs" font-family="'Liberation Sans','Noto Sans CJK SC',sans-serif" stroke="#00ff00" stroke-width="0.35">处数</text>
<text x="508" y="450.3" font-size="5.8" fill="#00ff00" text-anchor="middle" font-weight="bold" textLength="12" lengthAdjust="spacingAndGlyphs" font-family="'Liberation Sans','Noto Sans CJK SC',sans-serif" stroke="#00ff00" stroke-width="0.35">分 区</text>
<text x="533" y="450.3" font-size="5.8" fill="#00ff00" text-anchor="middle" font-weight="bold" textLength="20" lengthAdjust="spacingAndGlyphs" font-family="'Liberation Sans','Noto Sans CJK SC',sans-serif" stroke="#00ff00" stroke-width="0.35">更改文件号</text>
<text x="555" y="450.3" font-size="5.8" fill="#00ff00" text-anchor="middle" font-weight="bold" textLength="8" lengthAdjust="spacingAndGlyphs" font-family="'Liberation Sans','Noto Sans CJK SC',sans-serif" stroke="#00ff00" stroke-width="0.35">签名</text>
<text x="577" y="450.3" font-size="5.8" fill="#00ff00" text-anchor="middle" font-weight="bold" textLength="16" lengthAdjust="spacingAndGlyphs" font-family="'Liberation Sans','Noto Sans CJK SC',sans-serif" stroke="#00ff00" stroke-width="0.35">年月日</text>
<text x="474" y="460.8" font-size="5.8" fill="#00ff00" text-anchor="middle" font-weight="bold" textLength="9" lengthAdjust="spacingAndGlyphs" font-family="'Liberation Sans','Noto Sans CJK SC',sans-serif" stroke="#00ff00" stroke-width="0.35">设计</text>
<text x="492.5" y="460.8" font-size="5.8" fill="#00ff00" text-anchor="middle" font-weight="bold" textLength="12" lengthAdjust="spacingAndGlyphs" font-family="'Liberation Sans','Noto Sans CJK SC',sans-serif" stroke="#00ff00" stroke-width="0.35">(签名)</text>
<text x="514" y="460.8" font-size="5.8" fill="#00ff00" text-anchor="middle" font-weight="bold" textLength="19" lengthAdjust="spacingAndGlyphs" font-family="'Liberation Sans','Noto Sans CJK SC',sans-serif" stroke="#00ff00" stroke-width="0.35">(年月日)</text>
<text x="536" y="460.8" font-size="5.8" fill="#00ff00" text-anchor="middle" font-weight="bold" textLength="13" lengthAdjust="spacingAndGlyphs" font-family="'Liberation Sans','Noto Sans CJK SC',sans-serif" stroke="#00ff00" stroke-width="0.35">标准化</text>
<text x="555" y="460.8" font-size="5.8" fill="#00ff00" text-anchor="middle" font-weight="bold" textLength="12" lengthAdjust="spacingAndGlyphs" font-family="'Liberation Sans','Noto Sans CJK SC',sans-serif" stroke="#00ff00" stroke-width="0.35">(签名)</text>
<text x="577" y="460.8" font-size="5.8" fill="#00ff00" text-anchor="middle" font-weight="bold" textLength="19" lengthAdjust="spacingAndGlyphs" font-family="'Liberation Sans','Noto Sans CJK SC',sans-serif" stroke="#00ff00" stroke-width="0.35">(年月日)</text>
<text x="474" y="482.5" font-size="5.8" fill="#00ff00" text-anchor="middle" font-weight="bold" textLength="8" lengthAdjust="spacingAndGlyphs" font-family="'Liberation Sans','Noto Sans CJK SC',sans-serif" stroke="#00ff00" stroke-width="0.35">审核</text>
<text x="474" y="493.5" font-size="5.8" fill="#00ff00" text-anchor="middle" font-weight="bold" textLength="8" lengthAdjust="spacingAndGlyphs" font-family="'Liberation Sans','Noto Sans CJK SC',sans-serif" stroke="#00ff00" stroke-width="0.35">工艺</text>
<text x="555" y="493.5" font-size="5.8" fill="#00ff00" text-anchor="middle" font-weight="bold" textLength="8" lengthAdjust="spacingAndGlyphs" font-family="'Liberation Sans','Noto Sans CJK SC',sans-serif" stroke="#00ff00" stroke-width="0.35">批准</text>
<text x="628" y="435" font-size="10" fill="#00ff00" text-anchor="middle" font-weight="bold" textLength="8" lengthAdjust="spacingAndGlyphs" font-family="'Liberation Sans','Noto Sans CJK SC',sans-serif" stroke="#00ff00" stroke-width="0.35">45</text>
<text x="609" y="463.5" font-size="5.8" fill="#00ff00" text-anchor="middle" font-weight="bold" textLength="16" lengthAdjust="spacingAndGlyphs" font-family="'Liberation Sans','Noto Sans CJK SC',sans-serif" stroke="#00ff00" stroke-width="0.35">阶段标记</text>
<text x="639" y="463.5" font-size="5.8" fill="#00ff00" text-anchor="middle" font-weight="bold" textLength="12" lengthAdjust="spacingAndGlyphs" font-family="'Liberation Sans','Noto Sans CJK SC',sans-serif" stroke="#00ff00" stroke-width="0.35">重 量</text>
<text x="657.5" y="463.5" font-size="5.8" fill="#00ff00" text-anchor="middle" font-weight="bold" textLength="12" lengthAdjust="spacingAndGlyphs" font-family="'Liberation Sans','Noto Sans CJK SC',sans-serif" stroke="#00ff00" stroke-width="0.35">比 例</text>
<text x="639" y="478" font-size="5.8" fill="#00ff00" text-anchor="middle" font-weight="bold" textLength="2" lengthAdjust="spacingAndGlyphs" font-family="'Liberation Sans','Noto Sans CJK SC',sans-serif" stroke="#00ff00" stroke-width="0.35">1</text>
<text x="657.5" y="478" font-size="5.8" fill="#00ff00" text-anchor="middle" font-weight="bold" textLength="6" lengthAdjust="spacingAndGlyphs" font-family="'Liberation Sans','Noto Sans CJK SC',sans-serif" stroke="#00ff00" stroke-width="0.35">1:1</text>
<text x="627.5" y="492.5" font-size="5.8" fill="#00ff00" text-anchor="middle" font-weight="bold" textLength="45" lengthAdjust="spacingAndGlyphs" font-family="'Liberation Sans','Noto Sans CJK SC',sans-serif" stroke="#00ff00" stroke-width="0.35">共 1 张  第 1 张</text>
<text x="706" y="457.5" font-size="12" fill="#00ff00" text-anchor="middle" font-weight="bold" textLength="38" lengthAdjust="spacingAndGlyphs" font-family="'Liberation Sans','Noto Sans CJK SC',sans-serif" stroke="#00ff00" stroke-width="0.35">杠杆式拨叉</text>
<text x="705.5" y="487" font-size="12" fill="#00ff00" text-anchor="middle" font-weight="bold" textLength="24" lengthAdjust="spacingAndGlyphs" font-family="'Liberation Sans','Noto Sans CJK SC',sans-serif" stroke="#00ff00" stroke-width="0.35">零件图</text>
<text x="715.7" y="85.3" font-size="8" fill="#00ff00" text-anchor="middle" font-weight="bold" textLength="11.4" lengthAdjust="spacingAndGlyphs" font-family="'Liberation Sans','Noto Sans CJK SC',sans-serif" stroke="#00ff00" stroke-width="0.35">其余</text>
<path d="M721.8 80H727.5M721.8 80L724.2 85.7L731.8 72.8" stroke="#00ff00" fill="none"/>
<text x="724.3" y="79.6" font-size="6.5" fill="#00ff00" text-anchor="middle" font-weight="bold" textLength="5.8" lengthAdjust="spacingAndGlyphs" stroke="#00ff00" stroke-width="0.3">12.5</text>
</svg>
</body></html>
